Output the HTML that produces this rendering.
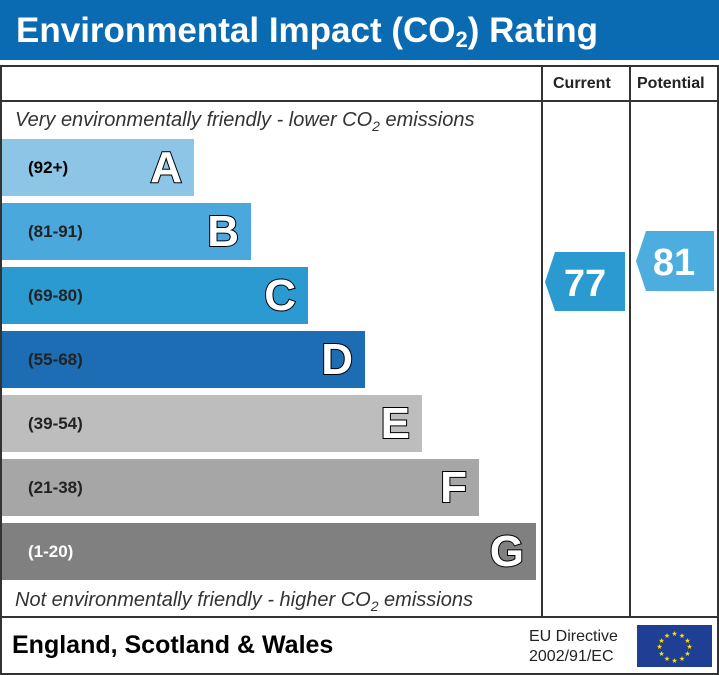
<!DOCTYPE html><html><head><style>
body{margin:0;width:719px;height:675px;background:#fff;font-family:"Liberation Sans",Arial,sans-serif;position:relative;overflow:hidden}
div{position:absolute;box-sizing:border-box}
.bar{left:2px;height:57px}
.rng{position:absolute;left:26px;top:0;line-height:57px;font-size:17px;font-weight:bold;color:#222}
.let{position:absolute;right:12px;top:0;line-height:57px;font-size:44px;font-weight:bold;color:#fff;-webkit-text-stroke:2px #000;paint-order:stroke fill}
.it{font-style:italic;font-size:20px;color:#333;left:15px}
</style></head><body>
<div style="left:0;top:0;width:719px;height:60px;background:#0a6ab2"></div>
<div style="left:16px;top:9px;color:#fff;font-size:35px;font-weight:bold;line-height:44px">Environmental Impact (CO<sub style="font-size:22px;vertical-align:-5px">2</sub>) Rating</div>
<div style="left:0;top:65px;width:719px;height:610px;border:2px solid #333"></div>
<div style="left:0;top:100px;width:719px;height:2px;background:#333"></div>
<div style="left:541px;top:65px;width:2px;height:553px;background:#333"></div>
<div style="left:629px;top:65px;width:2px;height:553px;background:#333"></div>
<div style="left:0;top:616px;width:719px;height:2px;background:#333"></div>
<div style="left:553px;top:75px;font-size:16px;font-weight:bold;color:#222">Current</div>
<div style="left:637px;top:75px;font-size:16px;font-weight:bold;color:#222">Potential</div>
<div class="it" style="top:109px">Very environmentally friendly - lower CO<sub style="font-size:14px">2</sub> emissions</div>
<div class="it" style="top:589px">Not environmentally friendly - higher CO<sub style="font-size:14px">2</sub> emissions</div>
<div class="bar" style="top:139px;width:192px;background:#8cc5e6"><span class="rng" style="color:#000">(92+)</span><span class="let">A</span></div>
<div class="bar" style="top:203px;width:249px;background:#4ba8dc"><span class="rng">(81-91)</span><span class="let">B</span></div>
<div class="bar" style="top:267px;width:306px;background:#2a9ad1"><span class="rng">(69-80)</span><span class="let">C</span></div>
<div class="bar" style="top:331px;width:363px;background:#1c6db3"><span class="rng">(55-68)</span><span class="let">D</span></div>
<div class="bar" style="top:395px;width:420px;background:#bdbdbd"><span class="rng">(39-54)</span><span class="let">E</span></div>
<div class="bar" style="top:459px;width:477px;background:#a6a6a6"><span class="rng">(21-38)</span><span class="let">F</span></div>
<div class="bar" style="top:523px;width:534px;background:#808080"><span class="rng" style="color:#fff">(1-20)</span><span class="let">G</span></div>
<svg style="position:absolute;left:0;top:0" width="719" height="675">
<polygon points="555,252 625,252 625,311 555,311 545,282" fill="#2a9ad1"/>
<polygon points="646,231 714,231 714,291 646,291 636,261" fill="#4cadde"/>
<text x="585" y="296" font-size="38" font-weight="bold" fill="#fff" text-anchor="middle" font-family="Liberation Sans">77</text>
<text x="674" y="275" font-size="38" font-weight="bold" fill="#fff" text-anchor="middle" font-family="Liberation Sans">81</text>
<rect x="637" y="625" width="75" height="42" fill="#1f3f94"/>
<g fill="#ffdd00" font-size="7" text-anchor="middle">
<text x="674.5" y="636">★</text><text x="682" y="638">★</text><text x="687.5" y="643">★</text><text x="689.5" y="649">★</text><text x="687.5" y="656">★</text><text x="682" y="661">★</text><text x="674.5" y="663">★</text><text x="667" y="661">★</text><text x="661.5" y="656">★</text><text x="659.5" y="649">★</text><text x="661.5" y="643">★</text><text x="667" y="638">★</text>
</g></svg>
<div style="left:12px;top:631px;font-size:25px;font-weight:bold;color:#000">England, Scotland &amp; Wales</div>
<div style="left:529px;top:627px;font-size:16px;color:#222;line-height:20px">EU Directive<br>2002/91/EC</div>
</body></html>
